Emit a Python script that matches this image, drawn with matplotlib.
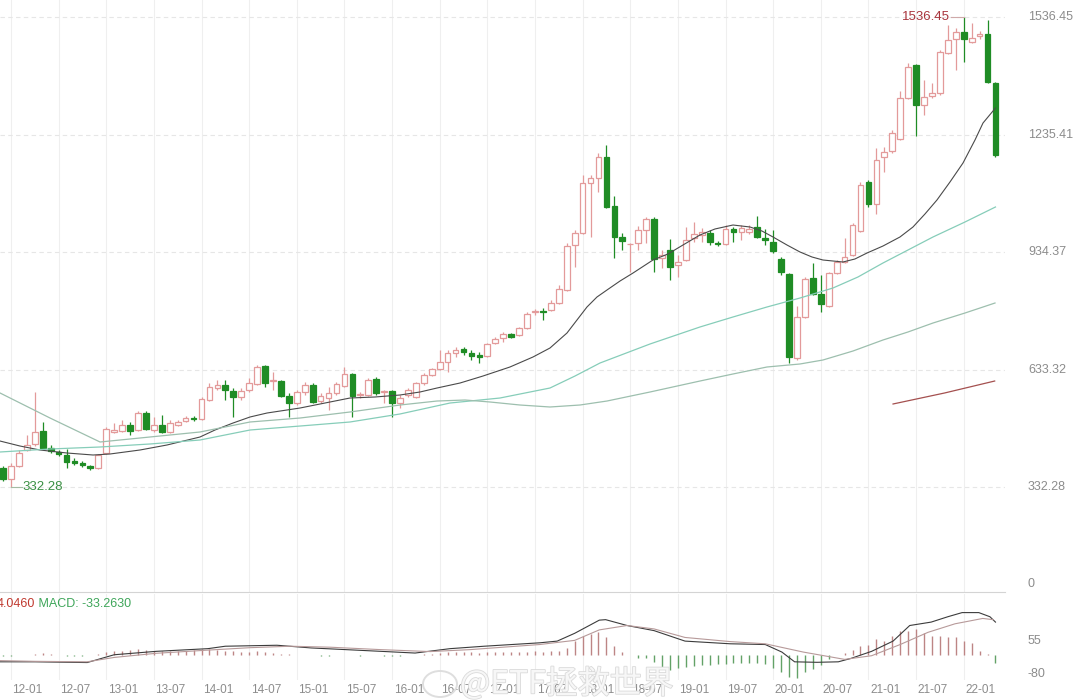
import matplotlib
matplotlib.use("Agg")
import matplotlib.pyplot as plt
import matplotlib.patheffects as pe
from matplotlib.patches import Ellipse
import pandas as pd

# monthly candles, 2011-12 .. 2022-05
months = pd.period_range("2011-12", periods=126, freq="M").strftime("%y-%m").tolist()

opens = [381.9, 353.8, 387.0, 428.0, 443.4, 476.6, 433.1, 422.9, 415.2, 399.8,
         394.7, 387.0, 381.9, 420.3, 474.1, 476.6, 492.0, 479.2, 522.7, 479.2,
         492.0, 474.1, 492.0, 502.2, 509.9, 507.4, 556.0, 586.7, 594.4, 579.0,
         563.7, 581.6, 597.0, 643.0, 604.6, 604.6, 566.2, 548.3, 576.5, 594.4,
         553.4, 561.1, 573.9, 591.8, 622.6, 568.8, 568.8, 609.8, 576.5, 579.0,
         548.3, 568.8, 563.7, 599.5, 620.0, 635.4, 653.3, 676.3, 686.6, 676.3,
         671.2, 668.6, 701.9, 714.7, 724.9, 722.4, 740.3, 781.3, 783.8, 786.4,
         804.3, 837.6, 952.8, 983.5, 1111.5, 1124.3, 1178.1, 1052.6, 973.3, 954.1,
         957.9, 991.2, 1019.4, 919.5, 940.0, 901.6, 914.4, 970.7, 978.4, 983.5,
         957.9, 955.4, 993.8, 986.1, 986.0, 998.9, 970.7, 960.5, 917.0, 878.6,
         663.5, 768.5, 868.3, 827.4, 796.6, 881.1, 909.3, 927.2, 988.6, 1114.1,
         1057.8, 1178.1, 1193.4, 1224.2, 1329.1, 1413.6, 1311.2, 1334.2, 1341.9, 1444.3,
         1480.2, 1498.1, 1472.5, 1488.0, 1493.0, 1367.5]
highs = [387.0, 394.7, 428.0, 466.4, 576.5, 499.7, 440.8, 428.0, 430.6, 407.5,
         399.8, 389.6, 417.8, 486.9, 497.1, 504.8, 499.7, 527.8, 527.8, 512.5,
         517.6, 504.8, 504.8, 515.0, 515.0, 563.7, 599.5, 607.2, 607.2, 586.7,
         586.7, 612.3, 645.6, 645.6, 627.7, 607.2, 573.9, 581.6, 602.1, 599.5,
         573.9, 589.3, 602.1, 640.5, 625.1, 576.5, 612.3, 614.9, 581.6, 581.6,
         568.8, 586.7, 602.1, 625.1, 637.9, 684.0, 684.0, 691.7, 691.7, 684.0,
         678.9, 701.9, 717.3, 730.0, 727.5, 742.9, 781.3, 788.9, 791.5, 812.0,
         850.4, 957.9, 991.2, 1132.0, 1132.0, 1188.3, 1208.8, 1078.2, 983.5, 957.9,
         1001.4, 1024.5, 1024.5, 940.0, 968.2, 927.2, 998.9, 1011.7, 996.3, 991.2,
         963.0, 1004.0, 998.9, 1004.0, 1004.0, 1027.0, 993.8, 991.2, 922.1, 881.1,
         796.6, 870.9, 906.7, 876.0, 883.7, 914.4, 970.7, 1009.1, 1114.1, 1119.2,
         1201.1, 1203.7, 1247.2, 1347.0, 1418.7, 1416.2, 1375.2, 1367.5, 1452.0, 1516.0,
         1508.3, 1536.45, 1521.1, 1500.0, 1528.8, 1370.1]
lows = [348.6, 332.28, 384.5, 425.4, 438.2, 430.6, 420.3, 412.6, 381.9, 389.6,
        384.5, 376.8, 379.4, 417.8, 471.5, 474.1, 466.4, 476.6, 479.2, 474.1,
        471.5, 471.5, 489.4, 499.7, 502.2, 504.8, 553.4, 581.6, 556.0, 512.5,
        556.0, 576.5, 594.4, 589.3, 581.6, 563.7, 512.5, 543.2, 568.8, 548.3,
        548.3, 530.4, 568.8, 589.3, 512.5, 561.1, 566.2, 568.8, 548.3, 512.5,
        535.5, 563.7, 561.1, 594.4, 617.4, 632.8, 627.7, 666.1, 671.2, 658.4,
        650.7, 666.1, 699.4, 704.5, 714.7, 719.8, 737.8, 773.6, 760.8, 783.8,
        801.8, 835.0, 896.5, 981.0, 973.3, 1088.5, 1047.5, 919.5, 940.0, 883.7,
        940.0, 957.9, 883.7, 893.9, 863.2, 870.9, 911.8, 960.5, 960.5, 952.8,
        950.2, 953.0, 960.5, 965.6, 981.0, 970.7, 952.8, 932.3, 876.0, 650.7,
        658.4, 765.9, 824.8, 781.3, 794.1, 878.6, 906.7, 924.6, 986.1, 1050.1,
        1032.2, 1139.7, 1188.3, 1221.6, 1326.6, 1231.8, 1285.6, 1329.1, 1336.8, 1441.8,
        1400.8, 1421.3, 1469.9, 1480.0, 1367.5, 1178.1]
closes = [353.8, 387.0, 420.3, 440.8, 474.1, 433.1, 425.4, 417.8, 397.3, 394.7,
          389.6, 381.9, 415.2, 481.8, 479.2, 492.0, 476.6, 522.7, 481.8, 492.0,
          474.1, 497.1, 499.7, 509.9, 507.4, 558.6, 589.3, 594.4, 581.6, 563.7,
          579.0, 599.5, 640.5, 599.5, 607.2, 566.2, 548.3, 576.5, 594.4, 550.9,
          566.2, 573.9, 597.0, 622.6, 566.2, 571.4, 607.2, 573.9, 579.0, 548.3,
          561.1, 581.6, 599.5, 620.0, 635.4, 653.3, 676.3, 684.0, 678.9, 668.6,
          666.1, 699.4, 712.2, 724.9, 717.3, 740.3, 776.2, 783.8, 781.3, 804.3,
          840.2, 950.2, 983.5, 1111.5, 1124.3, 1178.1, 1050.1, 973.3, 963.0, 955.4,
          991.2, 1019.4, 917.0, 927.2, 896.5, 909.3, 965.6, 981.0, 986.1, 960.5,
          955.4, 993.8, 986.1, 996.3, 994.0, 973.3, 965.6, 937.4, 883.7, 666.1,
          768.5, 865.8, 827.4, 801.8, 881.1, 909.3, 922.1, 1004.0, 1106.4, 1057.8,
          1170.4, 1190.9, 1239.5, 1329.1, 1408.5, 1311.2, 1331.7, 1341.9, 1446.9, 1477.6,
          1498.1, 1480.2, 1482.7, 1493.0, 1370.1, 1183.2]

# moving averages (candle index, value)
ma_short_x = [-0.38, 2.14, 4.66, 8.06, 11.34, 13.48, 17.25, 20.65, 24.81, 26.70, 28.97,
              31.11, 33.25, 37.41, 40.55, 43.70, 46.85, 50.00, 52.52, 54.66, 57.56,
              60.45, 63.85, 66.75, 68.89, 71.03, 72.29, 73.55, 74.81, 76.07, 77.71,
              79.35, 81.86, 83.75, 85.64, 87.78, 89.67, 91.94, 94.08, 95.59, 96.98,
              98.74, 100.38, 101.89, 103.27, 105.79, 107.30, 108.82, 110.83, 112.97,
              114.61, 116.12, 117.63, 119.27, 120.91, 122.42, 123.43, 125.0]
ma_short_y = [451.0, 438.2, 428.0, 420.3, 415.2, 417.8, 428.0, 440.8, 461.3, 479.2, 497.1,
              512.5, 522.7, 535.5, 548.3, 561.1, 563.7, 568.8, 576.5, 586.7, 599.5,
              617.4, 640.5, 666.1, 689.1, 727.5, 760.8, 794.1, 819.7, 837.6, 860.6,
              881.1, 914.4, 929.8, 952.8, 978.4, 993.8, 1004.0, 998.9, 988.6, 973.3,
              952.8, 934.9, 922.1, 914.4, 909.3, 917.0, 932.3, 950.2, 973.3,
              998.9, 1032.2, 1068.0, 1114.1, 1162.7, 1221.6, 1265.1, 1303.5]
ma_mid_x = [-0.38, 5.92, 12.22, 18.51, 24.81, 31.11, 37.41, 43.70, 50.00, 56.30, 62.59,
            65.74, 68.89, 72.04, 75.19, 81.49, 87.78, 91.94, 96.22, 100.38, 104.53,
            107.68, 110.83, 113.98, 117.13, 121.16, 125.0]
ma_mid_y = [422.9, 430.6, 435.7, 443.4, 453.6, 479.2, 489.4, 499.7, 520.2, 548.3, 561.1,
            573.9, 586.7, 617.4, 650.7, 699.4, 742.9, 768.5, 794.1, 817.1, 842.7,
            870.9, 906.7, 940.0, 973.3, 1011.7, 1050.1]
ma_long_x = [-0.38, 5.92, 12.22, 18.51, 24.81, 31.11, 37.41, 43.70, 50.00, 54.66, 58.19,
             61.34, 65.11, 68.89, 72.67, 76.07, 81.49, 87.78, 91.94, 96.22, 100.38,
             103.27, 107.05, 110.83, 113.98, 117.13, 121.16, 124.94]
ma_long_y = [574.0, 509.9, 448.5, 461.3, 474.1, 499.7, 509.9, 525.3, 543.2, 553.4, 556.0,
             550.9, 543.2, 538.1, 543.2, 553.4, 576.5, 604.6, 622.6, 640.5, 648.2,
             658.4, 681.4, 709.6, 730.1, 753.1, 778.7, 804.3]
ma_xl_x = [112.1, 118.6, 124.9]
ma_xl_y = [545.8, 574.0, 604.6]

# MACD panel
macd_hist = [-8, -6, -4, -2, 3, 5, 2, -2, -5, -6, -5,
             -3, 2,
             10, 14, 16, 20, 22, 18, 16, 15, 14,
             14, 15, 18, 22, 24, 20, 16, 14, 12,
             12, 14, 12, 8,
             4, 2, -2, -3, -4, -5, -5, -4, -3, -4, -5, -4, -4, -5, -6, -5, -4, -2, 2, 4,
             8, 10, 12, 12, 10, 8, 10, 12, 12, 12, 11, 12, 13, 12,
             13, 16, 27, 55, 77, 84, 91, 70, 34, 10,
             0, -16, -14, -30, -51, -65, -55, -51, -47, -44,
             -41, -37, -37, -34, -34, -33, -33, -37, -55, -72,
             -94, -98, -72, -60, -45, -20, 0, 6, 20, 34,
             41, 62, 55, 77, 98, 98, 105, 87, 77, 77,
             70, 70, 55, 48, 13, 3, -33]
dif_x = [-0.4, 4.0, 10.6, 14.0, 19.3, 25.8, 28.0, 34.5, 38.8, 43.2, 47.6, 51.9, 56.3, 60.6,
         67.6, 69.8, 72.0, 75.1, 75.9, 78.6, 82.0, 85.9, 91.6, 96.0, 98.1, 99.7, 102.5,
         105.2, 106.8, 109.4, 112.1, 114.2, 116.9, 119.0, 120.8, 122.9, 124.3, 125.0]
dif_y = [-30, -30, -33, -1, 13, 24, 34, 38, 27, 20, 13, 6, 24, 34,
         48, 55, 87, 141, 143, 119, 98, 55, 44, 41, 10, -30, -32,
         -30, -16, 13, 55, 119, 133, 155, 172, 172, 155, 133]
dea_x = [-0.4, 4.0, 10.6, 14.0, 19.3, 25.8, 31.1, 36.2, 41.2, 47.6, 53.8, 58.8, 67.6,
         72.0, 75.1, 78.6, 82.0, 85.9, 91.6, 96.0, 100.8, 103.4, 106.0, 109.4, 113.0,
         116.5, 119.9, 123.4, 124.7]
dea_y = [-25, -28, -30, -12, 5, 18, 28, 34, 30, 20, 12, 20, 41,
         58, 101, 119, 105, 70, 53, 44, 10, -5, -20, -5, 41,
         91, 126, 148, 143]

y_levels = [332.28, 633.32, 934.37, 1235.41, 1536.45]

W, H = 1080, 700
fig = plt.figure(figsize=(W / 100, H / 100), dpi=100)
plt.rcParams['font.family'] = ['Liberation Sans', 'DejaVu Sans']

ax = fig.add_axes([0, 108 / H, 1005 / W, 592 / H])
mx = fig.add_axes([0, 20 / H, 1005 / W, 86 / H], sharex=ax)

n = len(closes)
ax.set_xlim(-0.38, 126.2)
ax.set_ylim(64.5, 1580)
mx.set_ylim(-104.6, 248.3)

tick_idx = [i for i, m in enumerate(months) if m.endswith("-01") or m.endswith("-07")]

for a in (ax, mx):
    for s in a.spines.values():
        s.set_visible(False)
    a.set_xticks([])
    a.set_yticks([])
    for i in tick_idx:
        a.axvline(i, color="#efefef", lw=0.8, zorder=0)
ax.spines["bottom"].set_visible(True)
ax.spines["bottom"].set_color("#d4d4d4")

for v in y_levels:
    ax.axhline(v, color="#e6e6e6", lw=0.8, ls=(0, (4, 3)), zorder=0)

# candles
up_c, dn_c = "#e39a9a", "#1f8c25"
for i in range(n):
    o, h, l, c = opens[i], highs[i], lows[i], closes[i]
    up = c >= o
    col = up_c if up else dn_c
    ax.vlines(i, l, h, color=col, lw=0.9, zorder=2)
    body = max(abs(c - o), 2.0)
    ax.bar(i, body, bottom=min(o, c), width=0.72,
           facecolor="white" if up else dn_c, edgecolor=col, lw=0.9, zorder=3)

ax.plot(ma_short_x, ma_short_y, color="#4a4a4a", lw=0.8, zorder=4)
ax.plot(ma_mid_x, ma_mid_y, color="#86cdb9", lw=0.9, zorder=4)
ax.plot(ma_long_x, ma_long_y, color="#9dbfae", lw=0.9, zorder=4)
ax.plot(ma_xl_x, ma_xl_y, color="#a4504f", lw=0.9, zorder=4)

# high / low markers
hi_i = highs.index(max(highs))
lo_i = lows.index(min(lows))
ax.plot([hi_i - 1.6, hi_i], [max(highs)] * 2, color="#cfa9a9", lw=0.8, zorder=4)
ax.text(hi_i - 1.7, max(highs), f"{max(highs):.2f}", color="#a8343c", fontsize=9.5,
        ha="right", va="center")
ax.plot([lo_i, lo_i + 1.4], [min(lows)] * 2, color="#a3bba3", lw=0.8, zorder=4)
ax.text(lo_i + 1.5, min(lows), f"{min(lows):.2f}", color="#3a8f43", fontsize=9.5,
        ha="left", va="center")

# right axis labels
ytr = ax.get_yaxis_transform()
for v in y_levels:
    ax.text(1028 / 1005, v, f"{v:.2f}", transform=ytr, color="#8c8c8c",
            fontsize=9, ha="left", va="center", clip_on=False)
ax.text(1028 / 1005, 0.0135, "0", transform=ax.transAxes, color="#8c8c8c",
        fontsize=9, ha="left", va="center")

# MACD
for i, v in enumerate(macd_hist):
    col = "#bd8585" if v >= 0 else "#63a267"
    mx.vlines(i, 0, v, color=col, lw=1.0, zorder=2)
mx.plot(dif_x, dif_y, color="#3c3c3c", lw=0.8, zorder=3)
mx.plot(dea_x, dea_y, color="#b79a9a", lw=0.8, zorder=3)
mtr = mx.get_yaxis_transform()
for v in (55, -80):
    mx.text(1028 / 1005, v, str(v), transform=mtr, color="#8c8c8c", fontsize=9,
            ha="left", va="center", clip_on=False)
t1 = mx.text(-0.003, 0.885, "4.0460", transform=mx.transAxes, color="#c0392f",
             fontsize=9, ha="left", va="center")
mx.annotate(" MACD: -33.2630", xy=(1, 0.5), xycoords=t1, color="#3fa65a",
            fontsize=9, ha="left", va="center")

# month labels
for i in tick_idx:
    mx.text(i + 0.2, -0.116, months[i], transform=mx.get_xaxis_transform(),
            color="#8c8c8c", fontsize=8.5, ha="left", va="center", clip_on=False,
            zorder=5)

# watermark (weibo)
fig.patches.append(Ellipse((440 / W, 1 - 684 / H), 34 / W, 26 / H, transform=fig.transFigure,
                           fill=False, edgecolor="#dedede", lw=1.4))
wm = fig.text(460 / W, 1 - 684 / H, "@ETF拯救世界", color="#f7f7f7", fontsize=23,
              family=["Noto Sans CJK SC", "DejaVu Sans"], ha="left", va="center",
              zorder=0)
wm.set_path_effects([pe.withStroke(linewidth=1.2, foreground="#dadada")])

fig.savefig("out.png", dpi=100)
